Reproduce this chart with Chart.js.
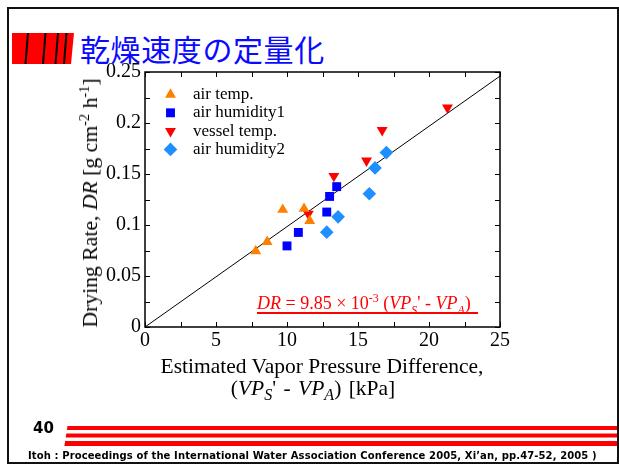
<!DOCTYPE html>
<html>
<head>
<meta charset="utf-8">
<script src="https://cdn.jsdelivr.net/npm/chart.js@4.4.1/dist/chart.umd.min.js"></script>
<style>
  body { margin: 0; width: 619px; height: 464px; background: #fff; position: relative; overflow: hidden; font-family: "Liberation Serif", serif; }
  .abs { position: absolute; white-space: nowrap; }
  #frame { left: 7px; top: 7px; width: 612px; height: 457px; border: 2px solid #111; box-sizing: border-box; }
  #title { left: 80px; top: 29px; font-family: "Noto Sans CJK JP"; font-size: 30px; letter-spacing: 0.6px; line-height: 38px; color: #0a0aff; }
  #ytitle { left: 90px; top: 203px; font-size: 21.7px; line-height: 24px; transform: translate(-50%, -50%) rotate(-90deg); }
  #xtitle { left: 122px; top: 355px; width: 400px; text-align: center; font-size: 21.5px; line-height: 22px; }
  #xtitle .l2 { display: inline-block; margin-right: 18px; word-spacing: 2px; }
  #xtitle .l2 sub { font-size: 0.75em; }
  #eq { left: 257px; top: 292px; font-size: 18px; line-height: 22px; color: #ff0000; }
  #equl { left: 257px; top: 312px; width: 221px; height: 2px; background: #ff0000; }
  #page { left: 33px; top: 419px; font: bold 15px "DejaVu Sans"; line-height: 18px; }
  #cite { left: 28px; top: 450px; font: bold 10px "DejaVu Sans"; letter-spacing: 0.11px; line-height: 12px; }
  sup, sub { font-size: 0.66em; line-height: 0; }
</style>
</head>
<body>
<div id="frame" class="abs"></div>
<svg class="abs" style="left:0;top:0" width="619" height="464">
  <!-- title bar icon -->
  <polygon points="12,33 74,33 71,64 12,64" fill="#ff0000"/>
  <g stroke="#000" stroke-width="2">
    <line x1="28" y1="33" x2="25.5" y2="64"/>
    <line x1="45.5" y1="33" x2="43" y2="64"/>
    <line x1="58" y1="33" x2="55.5" y2="64"/>
    <line x1="66.5" y1="33" x2="64" y2="64"/>
  </g>
  <!-- footer stripes -->
  <polygon points="67.5,426 617,426 617,430 66.8,430" fill="#ff0000"/>
  <polygon points="66.3,433.5 617,433.5 617,437.5 65.6,437.5" fill="#ff0000"/>
  <polygon points="65.2,441 617,441 617,446 64.3,446" fill="#ff0000"/>
</svg>
<div id="title" class="abs">乾燥速度の定量化</div>
<canvas id="c" class="abs" style="left:0;top:0" width="619" height="464"></canvas>
<div id="ytitle" class="abs">Drying Rate, <i>DR</i> [g cm<sup>-2</sup> h<sup>-1</sup>]</div>
<div id="xtitle" class="abs">Estimated Vapor Pressure Difference,<br><span class="l2">(<i>VP<sub>S</sub></i>' - <i>VP<sub>A</sub></i>) [kPa]</span></div>
<div id="eq" class="abs"><i>DR</i> = 9.85 × 10<sup>-3</sup> (<i>VP<sub>S</sub></i>' - <i>VP<sub>A</sub></i>)</div>
<div id="equl" class="abs"></div>
<div id="page" class="abs">40</div>
<div id="cite" class="abs">Itoh : Proceedings of the International Water Association Conference 2005, Xi’an, pp.47-52, 2005 )</div>
<script>
// values (x: kPa, y: g cm-2 h-1)
const airTempX = [7.8, 8.6, 9.7, 11.2, 11.6];
const airTempY = [0.0745, 0.0835, 0.115, 0.116, 0.104];
const airHum1X = [10.0, 10.8, 12.8, 13.0, 13.5];
const airHum1Y = [0.0795, 0.0927, 0.1127, 0.128, 0.1376];
const vesselX = [11.5, 13.3, 15.6, 16.7, 21.3];
const vesselY = [0.111, 0.148, 0.163, 0.193, 0.215];
const airHum2X = [12.8, 13.6, 15.8, 16.2, 17.0];
const airHum2Y = [0.093, 0.108, 0.1307, 0.156, 0.171];
const fitX = [0, 25];
const fitY = [0, 0.246];

const xTicks = [0, 5, 10, 15, 20, 25];
const yTicks = [0, 0.05, 0.1, 0.15, 0.2, 0.25];

const pts = (xs, ys) => xs.map((x, i) => ({ x: x, y: ys[i] }));

Chart.defaults.font.family = "Liberation Serif";
Chart.defaults.color = "#000";

// inward ticks on all four sides + box
const frameTicks = {
    id: "frameTicks",
    beforeDatasetsDraw(chart) {
        const { ctx, chartArea: a, scales: { x, y } } = chart;
        ctx.save();
        ctx.strokeStyle = "#000";
        ctx.lineWidth = 1;
        ctx.beginPath();
        for (let v = xTicks[0]; v <= xTicks[xTicks.length - 1] + 1e-9; v += 2.5) {
            const px = Math.round(x.getPixelForValue(v)) + 0.5;
            ctx.moveTo(px, a.bottom); ctx.lineTo(px, a.bottom - 5);
            ctx.moveTo(px, a.top); ctx.lineTo(px, a.top + 5);
        }
        for (let v = yTicks[0]; v <= yTicks[yTicks.length - 1] + 1e-9; v += 0.025) {
            const py = Math.round(y.getPixelForValue(v)) + 0.5;
            ctx.moveTo(a.left, py); ctx.lineTo(a.left + 5, py);
            ctx.moveTo(a.right, py); ctx.lineTo(a.right - 5, py);
        }
        ctx.stroke();
        ctx.lineWidth = 1.5;
        ctx.strokeRect(a.left, a.top, a.right - a.left, a.bottom - a.top);
        ctx.restore();
    }
};

// key drawn inside the plot, top left
const insideKey = {
    id: "insideKey",
    afterDatasetsDraw(chart) {
        const { ctx, chartArea: a } = chart;
        ctx.save();
        ctx.font = "17px 'Liberation Serif'";
        ctx.textBaseline = "middle";
        let row = 0;
        chart.data.datasets.forEach(ds => {
            if (!ds.inKey) return;
            const yy = a.top + 22.5 + row * 18.3;
            ctx.fillStyle = ds.backgroundColor;
            Chart.helpers.drawPoint(ctx, {
                pointStyle: ds.pointStyle,
                rotation: ds.pointRotation || 0,
                radius: ds.pointRadius,
                borderWidth: 0
            }, a.left + 25.5, yy);
            ctx.fillStyle = "#000";
            ctx.fillText(ds.label, a.left + 48, yy);
            row++;
        });
        ctx.restore();
    }
};

new Chart(document.getElementById("c"), {
    type: "scatter",
    data: {
        datasets: [
            {
                label: "air temp.",
                data: pts(airTempX, airTempY),
                pointStyle: "triangle",
                pointRadius: 6.3,
                pointBorderWidth: 0,
                backgroundColor: "#ff8000",
                inKey: true
            },
            {
                label: "air humidity1",
                data: pts(airHum1X, airHum1Y),
                pointStyle: "rect",
                pointRadius: 6.3,
                pointBorderWidth: 0,
                backgroundColor: "#0000ff",
                inKey: true
            },
            {
                label: "vessel temp.",
                data: pts(vesselX, vesselY),
                pointStyle: "triangle",
                pointRotation: 180,
                pointRadius: 6.3,
                pointBorderWidth: 0,
                backgroundColor: "#ff0000",
                inKey: true
            },
            {
                label: "air humidity2",
                data: pts(airHum2X, airHum2Y),
                pointStyle: "rectRot",
                pointRadius: 6.8,
                pointBorderWidth: 0,
                backgroundColor: "#1e8fff",
                inKey: true
            },
            {
                label: "fit",
                data: pts(fitX, fitY),
                showLine: true,
                borderColor: "#000",
                borderWidth: 1,
                pointRadius: 0
            }
        ]
    },
    options: {
        responsive: false,
        animation: false,
        layout: { padding: { left: 0, top: 72, right: 119, bottom: 97 } },
        plugins: { legend: { display: false }, tooltip: { enabled: false } },
        scales: {
            x: {
                type: "linear",
                min: 0,
                max: 25,
                afterFit: s => { s.height = 40; },
                grid: { display: false, drawTicks: false },
                border: { display: false },
                ticks: { stepSize: 5, padding: 2, font: { size: 20 } }
            },
            y: {
                type: "linear",
                min: 0,
                max: 0.25,
                afterFit: s => { s.width = 145; },
                grid: { display: false, drawTicks: false },
                border: { display: false },
                ticks: {
                    stepSize: 0.05,
                    padding: 4,
                    font: { size: 20 },
                    callback: v => String(+v.toFixed(3))
                }
            }
        }
    },
    plugins: [frameTicks, insideKey]
});
</script>
</body>
</html>
